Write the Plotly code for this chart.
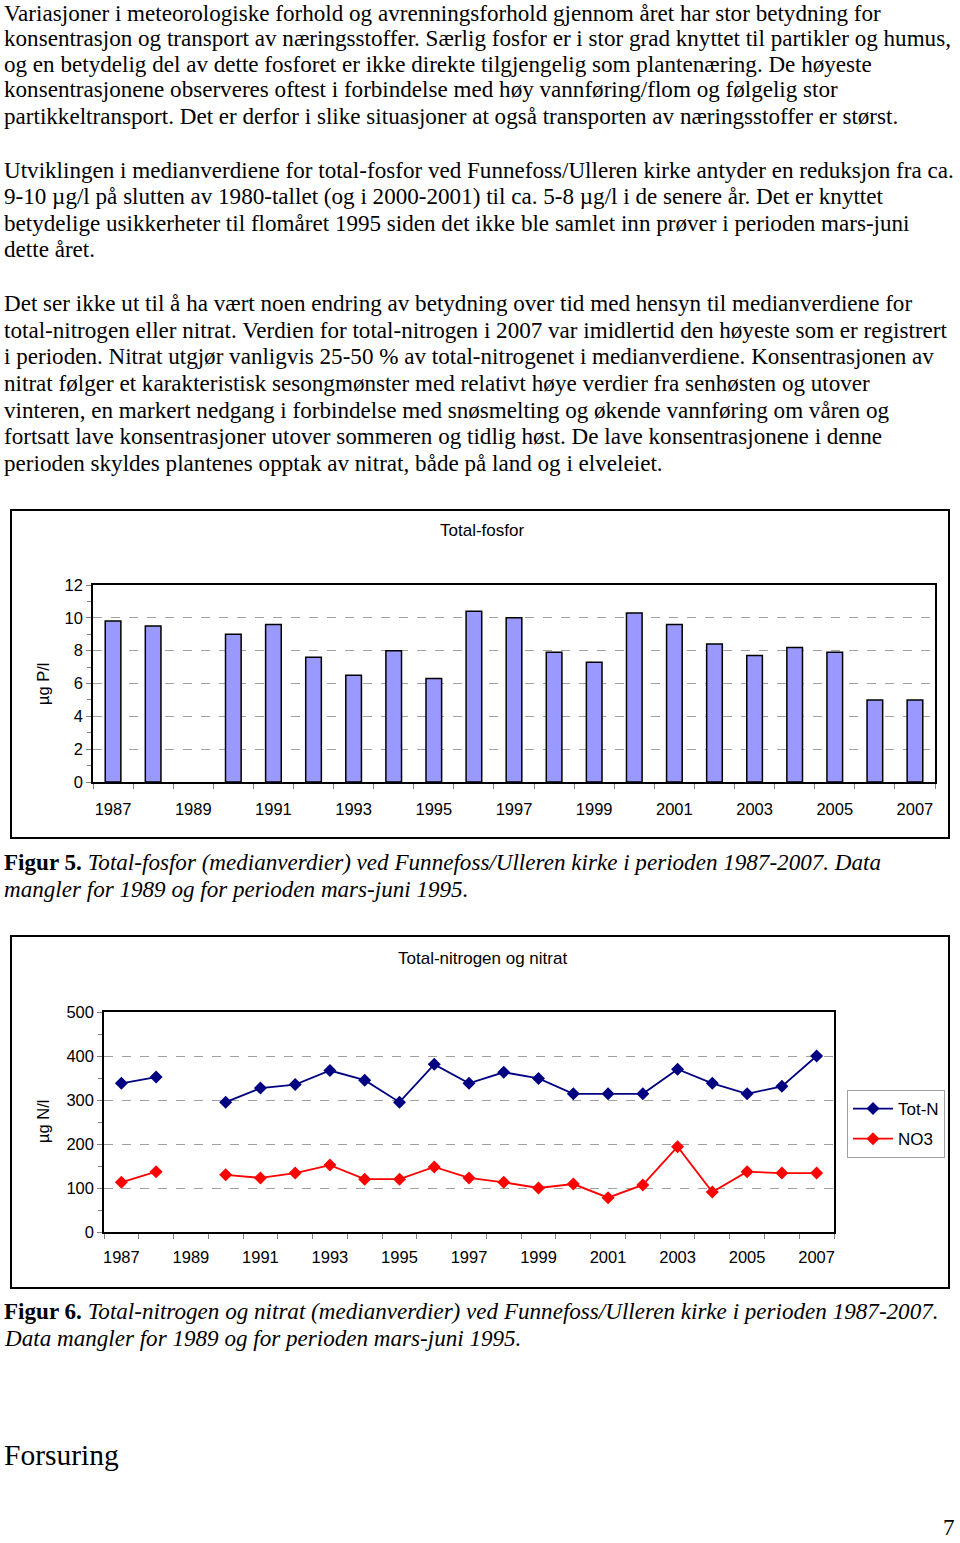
import plotly.graph_objects as go

W, H = 960, 1543

years = list(range(1987, 2008))
tot_p = [9.8, 9.5, None, 9.0, 9.6, 7.6, 6.5, 8.0, 6.3, 10.4, 10.0,
         7.9, 7.3, 10.3, 9.6, 8.4, 7.7, 8.2, 7.9, 5.0, 5.0]
tot_n = [338, 352, None, 295, 327, 335, 367, 345, 295, 381, 338,
         363, 349, 314, 314, 314, 370, 338, 314, 331, 400]
no3 = [113, 137, None, 130, 123, 134, 152, 120, 120, 148, 123,
       113, 100, 109, 78, 107, 194, 91, 137, 134, 134]
xtick_years = list(range(1987, 2008, 2))

para1 = [
    "Variasjoner i meteorologiske forhold og avrenningsforhold gjennom året har stor betydning for",
    "konsentrasjon og transport av næringsstoffer. Særlig fosfor er i stor grad knyttet til partikler og humus,",
    "og en betydelig del av dette fosforet er ikke direkte tilgjengelig som plantenæring. De høyeste",
    "konsentrasjonene observeres oftest i forbindelse med høy vannføring/flom og følgelig stor",
    "partikkeltransport. Det er derfor i slike situasjoner at også transporten av næringsstoffer er størst.",
]
para2 = [
    "Utviklingen i medianverdiene for total-fosfor ved Funnefoss/Ulleren kirke antyder en reduksjon fra ca.",
    "9-10 µg/l på slutten av 1980-tallet (og i 2000-2001) til ca. 5-8 µg/l i de senere år. Det er knyttet",
    "betydelige usikkerheter til flomåret 1995 siden det ikke ble samlet inn prøver i perioden mars-juni",
    "dette året.",
]
para3 = [
    "Det ser ikke ut til å ha vært noen endring av betydning over tid med hensyn til medianverdiene for",
    "total-nitrogen eller nitrat. Verdien for total-nitrogen i 2007 var imidlertid den høyeste som er registrert",
    "i perioden. Nitrat utgjør vanligvis 25-50 % av total-nitrogenet i medianverdiene. Konsentrasjonen av",
    "nitrat følger et karakteristisk sesongmønster med relativt høye verdier fra senhøsten og utover",
    "vinteren, en markert nedgang i forbindelse med snøsmelting og økende vannføring om våren og",
    "fortsatt lave konsentrasjoner utover sommeren og tidlig høst. De lave konsentrasjonene i denne",
    "perioden skyldes plantenes opptak av nitrat, både på land og i elveleiet.",
]
cap5 = ["<b>Figur 5.</b> <i>Total-fosfor (medianverdier) ved Funnefoss/Ulleren kirke i perioden 1987-2007. Data</i>",
        "<i>mangler for 1989 og for perioden mars-juni 1995.</i>"]
cap6 = ["<b>Figur 6.</b> <i>Total-nitrogen og nitrat (medianverdier) ved Funnefoss/Ulleren kirke i perioden 1987-2007.</i>",
        "<i>Data mangler for 1989 og for perioden mars-juni 1995.</i>"]


def px(x):
    return x / W


def py(y):
    return 1 - y / H


SERIF = "Liberation Serif"
SANS = "Liberation Sans"
TXT = 23.1

fig = go.Figure()

fig.add_trace(go.Bar(x=years, y=tot_p, xaxis="x", yaxis="y",
                     marker=dict(color="#9999FF", line=dict(color="black", width=1.5)),
                     showlegend=False))
fig.add_trace(go.Scatter(x=years, y=tot_n, xaxis="x2", yaxis="y2", name="Tot-N",
                         legendgroup="a",
                         mode="lines+markers", connectgaps=False,
                         line=dict(color="#000080", width=1.8),
                         marker=dict(symbol="diamond", size=10, color="#000080")))
fig.add_trace(go.Scatter(x=years, y=no3, xaxis="x2", yaxis="y2", name="NO3",
                         legendgroup="b",
                         mode="lines+markers", connectgaps=False,
                         line=dict(color="#FF0000", width=1.8),
                         marker=dict(symbol="diamond", size=10, color="#FF0000")))

annotations = []


def add_lines(lines, ys, size=TXT, x=3, font=SERIF):
    for t, y in zip(lines, ys):
        annotations.append(dict(text=t, x=px(x), y=py(y), xref="paper", yref="paper",
                                xanchor="left", yanchor="middle", showarrow=False,
                                borderpad=0,
                                font=dict(family=font, size=size, color="black")))


add_lines(para1, [13, 37.5, 63.5, 89.5, 116])
add_lines(para2, [170, 196, 223, 249])
add_lines(para3, [303, 330, 356, 383, 410, 436, 463])
add_lines(cap5, [862, 889])
add_lines(cap6, [1311, 1338])
add_lines(["Forsuring"], [1455], size=29.5)
annotations.append(dict(text="7", x=px(956), y=py(1527), xref="paper", yref="paper",
                        xanchor="right", yanchor="middle", showarrow=False, borderpad=0,
                        font=dict(family=SERIF, size=23, color="black")))

# chart titles and axis titles
for t, x, y in [("Total-fosfor", 482, 530), ("Total-nitrogen og nitrat", 482, 958)]:
    annotations.append(dict(text=t, x=px(x), y=py(y), xref="paper", yref="paper",
                            xanchor="center", yanchor="middle", showarrow=False,
                            font=dict(family=SANS, size=17, color="black")))
for t, x, y in [("µg P/l", 43, 684), ("µg N/l", 43, 1122)]:
    annotations.append(dict(text=t, x=px(x), y=py(y), xref="paper", yref="paper",
                            xanchor="center", yanchor="middle", showarrow=False, textangle=-90,
                            font=dict(family=SANS, size=16.5, color="black")))

shapes = [
    dict(type="rect", xref="paper", yref="paper", x0=px(11), x1=px(949), y0=py(510), y1=py(838),
         line=dict(color="black", width=2), layer="below"),
    dict(type="rect", xref="paper", yref="paper", x0=px(11), x1=px(949), y0=py(936), y1=py(1288),
         line=dict(color="black", width=2), layer="below"),
]

xcommon = dict(range=[1986.5, 2007.5], tickvals=xtick_years, ticks="", showgrid=False,
               zeroline=False, showline=True, mirror=True, linecolor="black", linewidth=1.5,
               automargin=False,
               tickfont=dict(family=SANS, size=16.5, color="black"),
               minor=dict(ticks="outside", ticklen=5, tick0=1986.5, dtick=1,
                          tickcolor="#808080", showgrid=False))
ycommon = dict(ticks="outside", ticklen=5, tickcolor="#808080", showgrid=True,
               gridcolor="#A0A0A0", griddash="dash", gridwidth=1, zeroline=False,
               showline=True, mirror=True, linecolor="black", linewidth=1.5,
               automargin=False,
               tickfont=dict(family=SANS, size=16.5, color="black"))

fig.update_layout(
    width=W, height=H, autosize=False,
    margin=dict(l=0, r=0, t=0, b=0, pad=0, autoexpand=False),
    paper_bgcolor="white", plot_bgcolor="white",
    bargap=0.61,
    xaxis=dict(domain=[px(93), px(935)], anchor="y", ticklabelstandoff=11, **xcommon),
    yaxis=dict(domain=[py(782), py(585)], anchor="x", range=[0, 12], dtick=2, **ycommon),
    xaxis2=dict(domain=[px(104), px(834)], anchor="y2", ticklabelstandoff=9, **xcommon),
    yaxis2=dict(domain=[py(1232), py(1012)], anchor="x2", range=[0, 500], dtick=100,
                **ycommon),
    legend=dict(x=px(847), y=py(1090), xanchor="left", yanchor="top",
                bordercolor="#A0A0A0", borderwidth=1, bgcolor="white",
                font=dict(family=SANS, size=17, color="black"),
                itemwidth=40, tracegroupgap=5),
    annotations=annotations, shapes=shapes,
)
fig.update_yaxes(minor=dict(ticks="outside", ticklen=4, tickcolor="#808080", showgrid=False))
fig.layout.yaxis.minor.dtick = 1
fig.layout.yaxis2.minor.dtick = 50

fig.write_html("out.html", config={"displayModeBar": False},
               post_script="document.body.style.margin='0';document.body.style.overflow='hidden';")
